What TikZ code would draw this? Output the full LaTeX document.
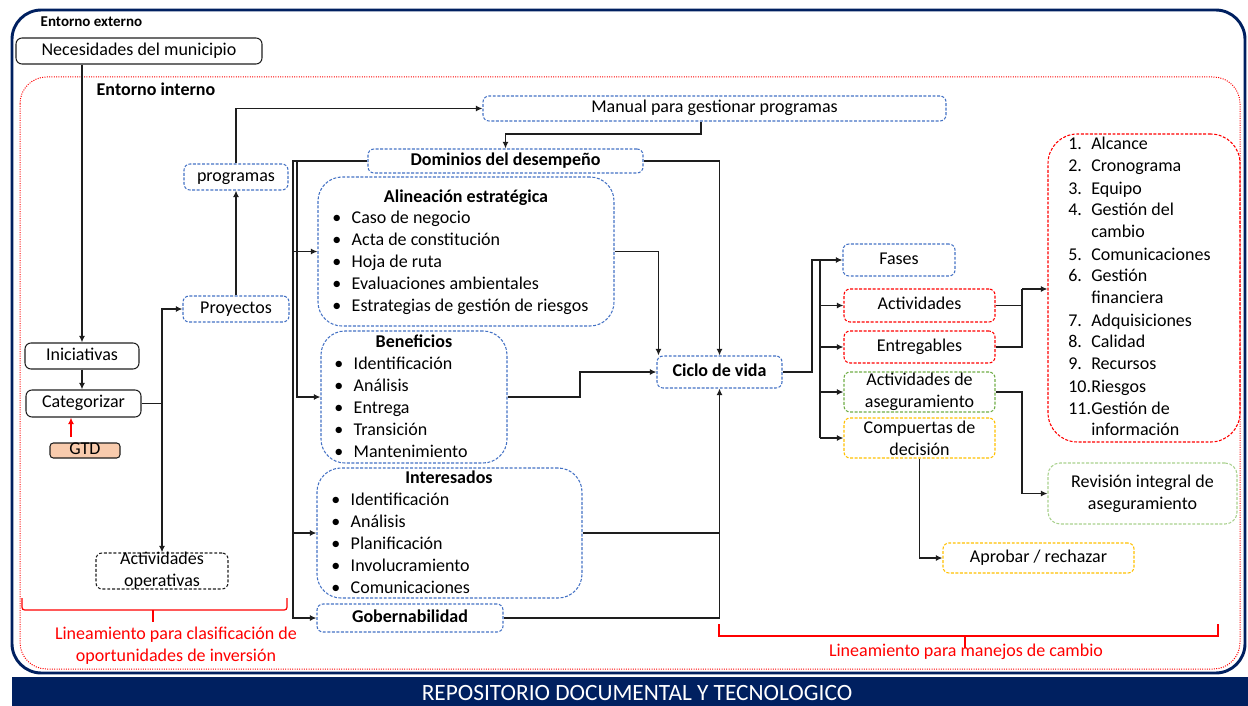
\documentclass[tikz,border=0pt]{standalone}
\usepackage{fontspec}
\setmainfont{Carlito}
\usetikzlibrary{arrows.meta,fit,calc}

\definecolor{navy}{HTML}{002060}
\definecolor{dblue}{HTML}{4472C4}
\definecolor{lred}{HTML}{FF0000}
\definecolor{agreen}{HTML}{70AD47}
\definecolor{lgreen}{HTML}{A9D18E}
\definecolor{gold}{HTML}{FFC000}
\definecolor{peach}{HTML}{F8CBAD}
\definecolor{ink}{HTML}{1E1E1E}

\newcommand\fs{\fontsize{13.5pt}{16.5pt}\selectfont}
\newcommand\bul{\makebox[14.6pt][l]{\textbullet}}
\newcommand\itemnum[1]{\makebox[17.25pt][l]{#1}}
% box spanning two corners, with a one-line label at its centre
\newcommand\bx[4]{\node[#1, fit={#3}] (#2) {}; \node[lbl] (#2T) at (#2.center) {#4};}

\tikzset{
  box/.style={rectangle, rounded corners=4.5pt, inner sep=0pt, line width=0.8pt},
  solidbox/.style={box, draw=ink},
  blackdash/.style={box, draw=ink, dash pattern=on 2.2pt off 1.4pt},
  bluebox/.style={box, draw=dblue, dash pattern=on 2.2pt off 1.2pt},
  redbox/.style={box, draw=lred, dash pattern=on 2.2pt off 1.2pt},
  greenbox/.style={box, draw=agreen, dash pattern=on 2.2pt off 1.2pt},
  paleggreen/.style={box, draw=lgreen, dash pattern=on 2.2pt off 1.2pt},
  goldbox/.style={box, draw=gold, dash pattern=on 2.2pt off 1.2pt},
  lbl/.style={inner sep=0pt, text height=0.65em, text depth=0pt},
  bold/.style={font=\fs\bfseries},
  wire/.style={draw=ink, line width=1pt},
  conn/.style={wire, -{Latex[length=5pt,width=4.6pt]}},
  brace/.style={draw=lred, line width=0.9pt},
}

\begin{document}
\begin{tikzpicture}[x=0.75pt, y=-0.75pt, font=\fs]
\useasboundingbox (0,0) rectangle (1248,706);

% frames
\draw[navy, line width=2.2pt, rounded corners=22pt] (12,10) rectangle (1245,673);
\draw[lred, densely dotted, line width=0.75pt, rounded corners=20pt] (20,77) rectangle (1240,669);
\fill[navy] (12,677) rectangle (1248,706);
\node[anchor=base, inner sep=0pt, text=white, font=\fontsize{17.5pt}{20pt}\selectfont] (repo) at (637,700) {REPOSITORIO DOCUMENTAL Y TECNOLOGICO};

\node[anchor=west, font=\fontsize{11.25pt}{13pt}\selectfont\bfseries] (ext) at (36,22) {Entorno externo};
\node[anchor=west, bold] (inte) at (92,89) {Entorno interno};

% left column
\bx{solidbox}{nec}{(16,38)(262,64)}{Necesidades del municipio}
\bx{solidbox}{ini}{(25,343)(139,369)}{Iniciativas}
\bx{solidbox}{cat}{(26,390)(141,417)}{Categorizar}
\bx{solidbox, fill=peach, rounded corners=2.5pt}{gtd}{(50,443)(120,458)}{GTD}
\node[blackdash, fit={(96,553)(228,589)}] (ops) {};
\node[align=center, inner sep=0pt] (opsT) at (ops.center) {Actividades\\operativas};

\bx{bluebox}{proy}{(183,296)(289,322)}{Proyectos}
\bx{bluebox}{prog}{(184,164)(288,190)}{programas}
\bx{bluebox}{man}{(483,96)(946,121)}{Manual para gestionar programas}
\bx{bluebox}{dom}{(368,149)(643,173)}{\bfseries Dominios del desempeño}

% performance domains
\node[bluebox, rounded corners=18pt, fit={(318,177)(614,326)}] (ali) {};
\node[bold, anchor=base] (aliH) at (466,202) {Alineación estratégica};
\node[anchor=base west, inner sep=0pt] (aliL) at (332,223) {\begin{tabular}[t]{@{}l@{}}
\bul Caso de negocio\\ \bul Acta de constitución\\ \bul Hoja de ruta\\
\bul Evaluaciones ambientales\\ \bul Estrategias de gestión de riesgos\end{tabular}};

\node[bluebox, rounded corners=18pt, fit={(321,331)(507,463)}] (ben) {};
\node[bold, anchor=base] (benH) at (414,347) {Beneficios};
\node[anchor=base west, inner sep=0pt] (benL) at (334,369) {\begin{tabular}[t]{@{}l@{}}
\bul Identificación\\ \bul Análisis\\ \bul Entrega\\ \bul Transición\\ \bul Mantenimiento\end{tabular}};

\node[bluebox, rounded corners=18pt, fit={(317,468)(582,598)}] (int) {};
\node[bold, anchor=base] (intH) at (449,483) {Interesados};
\node[anchor=base west, inner sep=0pt] (intL) at (331,505) {\begin{tabular}[t]{@{}l@{}}
\bul Identificación\\ \bul Análisis\\ \bul Planificación\\ \bul Involucramiento\\ \bul Comunicaciones\end{tabular}};

\bx{bluebox}{gob}{(317,604)(503,632)}{\bfseries Gobernabilidad}

% life cycle
\bx{bluebox}{cic}{(657,356)(782,388)}{\bfseries Ciclo de vida}
\bx{bluebox}{fas}{(843,244)(955,276)}{Fases}
\bx{redbox}{act}{(844,289)(995,322)}{Actividades}
\bx{redbox}{ent}{(844,331)(995,363)}{Entregables}
\node[greenbox, fit={(844,372)(995,412)}] (aseg) {};
\node[align=center, inner sep=0pt] (asegT) at (aseg.center) {Actividades de\\aseguramiento};
\node[goldbox, fit={(844,418)(995,458)}] (comp) {};
\node[align=center, inner sep=0pt] (compT) at (comp.center) {Compuertas de\\decisión};

\node[redbox, rounded corners=22pt, fit={(1048,134)(1240,442)}] (lst) {};
\node[anchor=base west, inner sep=0pt] (lstT) at (1068,150) {\begin{tabular}[t]{@{}l@{}}
\itemnum{1.}Alcance\\ \itemnum{2.}Cronograma\\ \itemnum{3.}Equipo\\
\itemnum{4.}Gestión del\\ \itemnum{}cambio\\ \itemnum{5.}Comunicaciones\\
\itemnum{6.}Gestión\\ \itemnum{}financiera\\ \itemnum{7.}Adquisiciones\\
\itemnum{8.}Calidad\\ \itemnum{9.}Recursos\\ \itemnum{10.}Riesgos\\
\itemnum{11.}Gestión de\\ \itemnum{}información\end{tabular}};

\node[paleggreen, rounded corners=9pt, fit={(1048,463)(1237,524)}] (rev) {};
\node[align=center, inner sep=0pt] (revT) at (rev.center) {Revisión integral de\\aseguramiento};
\bx{goldbox}{apr}{(943,543)(1134,573)}{Aprobar / rechazar}

% guideline brackets
\draw[brace, rounded corners=2pt] (22,598) -- (22,610) -- (287,610) -- (287,598);
\draw[brace] (153,610) -- (153,622);
\node[text=lred, align=center, inner sep=0pt] (lin1) at (176,646) {Lineamiento para clasificación de\\oportunidades de inversión};
\draw[brace] (719,624) -- (719,636) -- (1218,636) -- (1218,624);
\draw[brace] (965,636) -- (965,648);
\node[lbl, text=lred] (lin2) at (966,652) {Lineamiento para manejos de cambio};

% connectors: left side
\draw[conn] (ini.north |- nec.south) -- (ini.north);
\draw[conn] (ini.south) -- (ini.south |- cat.north);
\coordinate (gtdTip) at (71,437);
\draw[conn, draw=lred] (gtdTip) -- (gtdTip |- cat.south);
\coordinate (catJ) at (162,403.5);
\draw[wire] (cat.east) -- (catJ);
\draw[conn] (catJ) |- (proy.west);
\draw[conn] (catJ) -- (catJ |- ops.north);
\draw[conn] (proy.north) -- (prog.south);
\draw[conn] (prog.north) |- (man.west);
\coordinate (manJ) at (701,134);
\draw[conn] (man.south -| manJ) -- (manJ) -| (dom.north);

% connectors: domains
\coordinate (trunkL) at (293,161);
\coordinate (trunkB) at (297,161);
\draw[conn] (dom.west) -- (dom.west -| trunkL) |- (gob.west);
\draw[conn] (ali.west -| trunkL) -- (ali.west);
\draw[conn] (int.west -| trunkL) -- (int.west);
\draw[conn] (dom.west -| trunkB) |- (ben.west);
\draw[conn] (dom.east) -| (cic.north);
\draw[conn] (ali.east) -| ($(cic.north west)+(2,0)$);
\coordinate (benJ) at (580,372);
\draw[conn] (ben.east) -| (benJ) -- (cic.west);
\draw[conn] (int.east) -| (cic.south);
\draw[wire] (gob.east) -| (int.east -| cic.south);

% connectors: life cycle
\coordinate (cicJ) at (812,372);
\draw[conn] (cic.east) -- (cicJ) |- (fas.west);
\coordinate (br) at (820,260);
\draw[wire] (br) -- (br |- comp.west);
\draw[conn] (br |- act.west) -- (act.west);
\draw[conn] (br |- ent.west) -- (ent.west);
\draw[conn] (br |- aseg.west) -- (aseg.west);
\draw[conn] (br |- comp.west) -- (comp.west);
\coordinate (lj) at (1022,289);
\draw[wire] (act.east) -- (act.east -| lj);
\draw[wire] (ent.east) -| (lj);
\draw[conn] (lj) -- (lj -| lst.west);
\draw[conn] (aseg.east) -| (lj |- rev.west) -- (rev.west);
\draw[conn] (comp.south) |- (apr.west);
\end{tikzpicture}
\end{document}
